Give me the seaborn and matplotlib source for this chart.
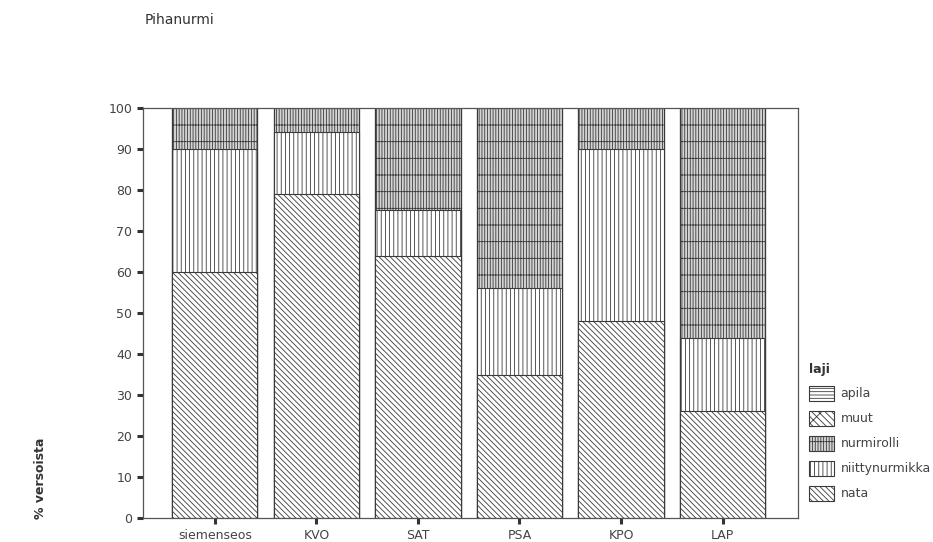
import numpy as np
import pandas as pd
import matplotlib
matplotlib.use("Agg")
import matplotlib.pyplot as plt
from matplotlib.patches import Patch
import seaborn as sns

# data (% of shoots)
sites = ['siemenseos', 'KVO', 'SAT', 'PSA', 'KPO', 'LAP']
nata = [60, 79, 64, 35, 48, 26]
niittynurmikka = [30, 15, 11, 21, 42, 18]
nurmirolli = [10, 6, 25, 44, 10, 56]
muut = [0, 0, 0, 0, 0, 0]
apila = [0, 0, 0, 0, 0, 0]

species = ['apila', 'muut', 'nurmirolli', 'niittynurmikka', 'nata']
values = {'nata': nata, 'niittynurmikka': niittynurmikka, 'nurmirolli': nurmirolli,
          'muut': muut, 'apila': apila}

styles = {
    'apila': dict(hatch='-----', facecolor='white'),
    'muut': dict(hatch='\\\\\\\\\\/', facecolor='white'),
    'nurmirolli': dict(hatch='||||||-', facecolor='#d4d4d4'),
    'niittynurmikka': dict(hatch='||||', facecolor='white'),
    'nata': dict(hatch='\\\\\\\\\\\\', facecolor='white'),
}

sns.set_theme(style='ticks')
plt.rcParams['font.family'] = ['DejaVu Sans']
plt.rcParams['hatch.linewidth'] = 0.6
plt.rcParams['hatch.color'] = '#3a3a3a'

# cumulative heights, stacked from the bottom: nata, niittynurmikka, nurmirolli, muut, apila
stack_order = ['nata', 'niittynurmikka', 'nurmirolli', 'muut', 'apila']
cum = {}
running = np.zeros(len(sites))
for sp in stack_order:
    running = running + np.array(values[sp])
    cum[sp] = running.copy()

fig = plt.figure(figsize=(9.33, 5.42), dpi=100)
ax = fig.add_axes([0.153, 0.044, 0.702, 0.757])

# draw tallest layer first, each lower layer on top of it
for sp in reversed(stack_order):
    df = pd.DataFrame({'site': sites, 'pct': cum[sp]})
    sns.barplot(data=df, x='site', y='pct', ax=ax, width=0.84,
                color=styles[sp]['facecolor'], hatch=styles[sp]['hatch'],
                edgecolor='#3a3a3a', linewidth=0.8, saturation=1)

ax.set_xlim(-0.71, 5.74)
ax.set_ylim(0, 100)
ax.set_yticks(range(0, 101, 10))
ax.set_xlabel('')
ax.set_ylabel('')
for s in ax.spines.values():
    s.set_color('#555555')
    s.set_linewidth(0.9)
ax.tick_params(axis='both', direction='out', length=4, width=2.2,
               color='#333333', labelsize=9, labelcolor='#444444')

fig.text(0.155, 0.963, 'Pihanurmi', fontsize=10, color='#333333', va='center')
fig.text(0.043, 0.118, '% versoista', rotation=90, fontsize=9, fontweight='bold',
         color='#333333', ha='center', va='center')

handles = [Patch(facecolor=styles[sp]['facecolor'], hatch=styles[sp]['hatch'],
                 edgecolor='#3a3a3a', linewidth=0.8, label=sp) for sp in species]
leg = ax.legend(handles=handles, title='laji', loc='lower left',
                bbox_to_anchor=(1.01, 0.03), frameon=False, fontsize=9,
                title_fontsize=9, handlelength=2.0, handleheight=1.5,
                labelspacing=0.78, handletextpad=0.5, borderaxespad=0)
leg._legend_box.align = 'left'
for t in leg.get_texts():
    t.set_color('#444444')
leg.get_title().set_fontweight('bold')
leg.get_title().set_color('#333333')

fig.savefig('out.png', dpi=100)
